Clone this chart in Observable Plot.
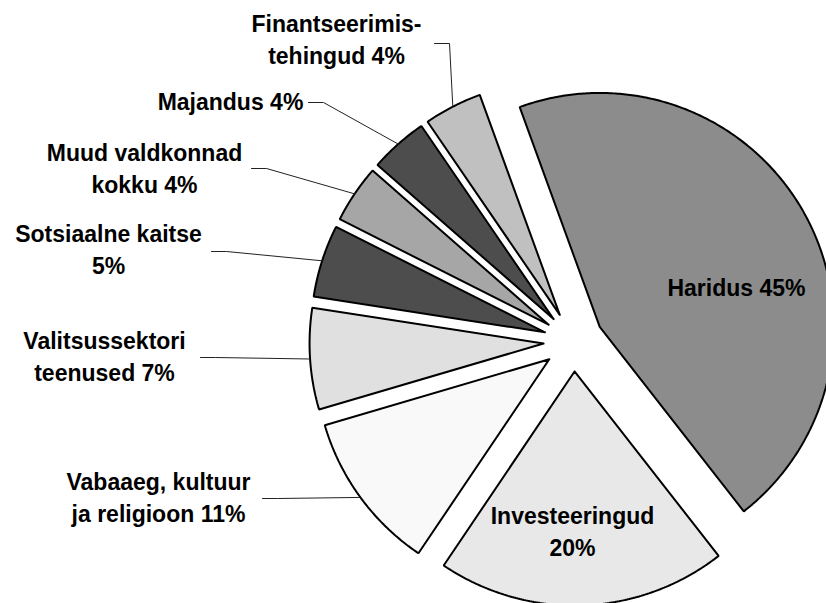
<!DOCTYPE html>
<html>
<head>
<meta charset="utf-8">
<script src="https://cdn.jsdelivr.net/npm/d3@7"></script>
<script src="https://cdn.jsdelivr.net/npm/@observablehq/plot@0.6"></script>
<style>
  html, body { margin: 0; padding: 0; background: #fff; overflow: hidden; }
  #chart svg { display: block; }
</style>
</head>
<body>
<div id="chart"></div>
<script>
// ---- data ----
const categories = [
  "Haridus",
  "Investeeringud",
  "Vabaaeg, kultuur ja religioon",
  "Valitsussektori teenused",
  "Sotsiaalne kaitse",
  "Muud valdkonnad kokku",
  "Majandus",
  "Finantseerimistehingud"
];
const shares = [45, 20, 11, 7, 5, 4, 4, 4];
const labelTexts = [
  "Haridus 45%",
  "Investeeringud\n20%",
  "Vabaaeg, kultuur\nja religioon 11%",
  "Valitsussektori\nteenused 7%",
  "Sotsiaalne kaitse\n5%",
  "Muud valdkonnad\nkokku 4%",
  "Majandus 4%",
  "Finantseerimis-\ntehingud 4%"
];

// ---- styles ----
const sliceFills = ["#8c8c8c", "#e8e8e8", "#f9f9f9", "#e0e0e0", "#4d4d4d", "#a6a6a6", "#4d4d4d", "#c0c0c0"];

// ---- layout ----
const W = 826, H = 603;
const pieLayout = {cx: 573, cy: 341, r: 234, explode: 30, startDeg: -20};
// label anchor (text centre, last baseline) and leader-line start (null = inside slice)
const labelLayout = [
  {x: 736, y: 295, lx: null, ly: null},
  {x: 572, y: 555, lx: null, ly: null},
  {x: 158, y: 521, lx: 262, ly: 498},
  {x: 104, y: 380, lx: 200, ly: 357},
  {x: 108, y: 273, lx: 211, ly: 251},
  {x: 144, y: 192, lx: 251, ly: 168},
  {x: 230, y: 109, lx: 308, ly: 102},
  {x: 336, y: 63,  lx: 434, ly: 43}
];
const stub = 15;

// ---- geometry from the values ----
const a0 = pieLayout.startDeg * Math.PI / 180;
const arcs = d3.pie().sort(null).startAngle(a0).endAngle(a0 + 2 * Math.PI)(shares);

const polyPoints = [];
const leaderPoints = [];
arcs.forEach((a, i) => {
  const mid = (a.startAngle + a.endAngle) / 2;
  const ax = pieLayout.cx + pieLayout.explode * Math.sin(mid);
  const ay = pieLayout.cy - pieLayout.explode * Math.cos(mid);
  const name = categories[i];
  polyPoints.push({name, x: ax, y: ay, fill: sliceFills[i]});
  const steps = Math.max(8, Math.ceil((a.endAngle - a.startAngle) / (Math.PI / 360)));
  for (let k = 0; k <= steps; ++k) {
    const t = a.startAngle + (a.endAngle - a.startAngle) * k / steps;
    polyPoints.push({name, x: ax + pieLayout.r * Math.sin(t), y: ay - pieLayout.r * Math.cos(t), fill: sliceFills[i]});
  }
  polyPoints.push({name, x: ax, y: ay, fill: sliceFills[i]});

  const L = labelLayout[i];
  if (L.lx != null) {
    leaderPoints.push({name, x: L.lx, y: L.ly});
    leaderPoints.push({name, x: L.lx + stub, y: L.ly});
    leaderPoints.push({name, x: ax + pieLayout.r * Math.sin(mid), y: ay - pieLayout.r * Math.cos(mid)});
  }
});

const labelRows = labelTexts.map((t, i) => ({text: t, x: labelLayout[i].x, y: labelLayout[i].y}));

const chart = Plot.plot({
  width: W,
  height: H,
  margin: 0,
  x: {domain: [0, W], range: [0, W], axis: null},
  y: {domain: [0, H], range: [0, H], axis: null},
  color: {type: "identity"},
  style: {background: "#fff"},
  marks: [
    Plot.line(polyPoints, {
      x: "x", y: "y", z: "name", fill: "fill",
      stroke: "#000", strokeWidth: 2, strokeLinejoin: "miter", curve: "linear", clip: true
    }),
    Plot.line(leaderPoints, {
      x: "x", y: "y", z: "name", stroke: "#222", strokeWidth: 1, strokeLinejoin: "miter"
    }),
    Plot.text(labelRows, {
      x: "x", y: "y", text: "text",
      textAnchor: "middle", lineAnchor: "bottom", lineHeight: 1.37,
      fontSize: 23, fontWeight: "bold",
      fontFamily: "'Liberation Sans', Arial, sans-serif", fill: "#000"
    })
  ]
});
document.getElementById("chart").appendChild(chart);
</script>
</body>
</html>
